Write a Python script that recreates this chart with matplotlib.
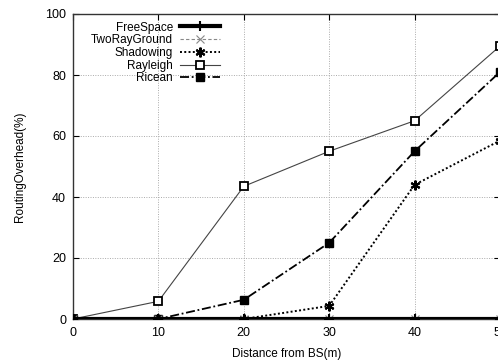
import matplotlib
matplotlib.use("Agg")
import matplotlib.pyplot as plt

plt.rcParams['font.family'] = ['Liberation Sans', 'DejaVu Sans']

distance = [0, 10, 20, 30, 40, 50]
free_space = [0, 0, 0, 0, 0, 0]
two_ray_ground = [0, 0, 0, 0, 0, 0]
shadowing = [0, 0, 0, 4.3, 44, 58.5]
rayleigh = [0, 5.8, 43.5, 55, 65, 89.5]
ricean = [0, 0, 6.3, 25, 55, 81]
x_ticks = [0, 10, 20, 30, 40, 50]
y_ticks = [0, 20, 40, 60, 80, 100]

fig = plt.figure(figsize=(4.98, 3.62), dpi=100)
ax = fig.add_axes([73 / 498, 43 / 362, 427 / 498, 305 / 362])

ax.plot(distance, free_space, color='black', lw=3.0, marker='+', ms=7, mew=1.5,
        label='FreeSpace', zorder=6)
ax.plot(distance, two_ray_ground, color='#888888', lw=0.8, ls=(0, (3, 2)),
        marker='x', ms=6, mew=0.8, label='TwoRayGround', zorder=5)
ax.plot(distance, shadowing, color='black', lw=1.4, ls=(0, (1, 1.2)),
        marker=(6, 2, 0), ms=7, mew=1.5, label='Shadowing', zorder=4)
ax.plot(distance, rayleigh, color='#444444', lw=0.8, ls='-',
        marker='s', ms=5.5, mfc='white', mec='black', mew=1.3,
        label='Rayleigh', zorder=3)
ax.plot(distance, ricean, color='black', lw=1.3, ls=(0, (5, 1.5, 1, 1.5)),
        marker='s', ms=5.5, mfc='black', mec='black', label='Ricean', zorder=4)

ax.set_xlim(0, 50)
ax.set_ylim(0, 100)
ax.set_xticks(x_ticks)
ax.set_yticks(y_ticks)
ax.tick_params(direction='in', length=4, labelsize=9, top=True, right=True,
               width=0.8)
ax.tick_params(axis='x', pad=6)
ax.tick_params(axis='y', pad=5)
ax.grid(True, color='#aaaaaa', ls=(0, (1, 1.5)), lw=0.7)
ax.set_axisbelow(True)
for s in ax.spines.values():
    s.set_linewidth(1.0)
    s.set_color('#333333')

ax.set_xlabel('Distance from BS(m)', fontsize=8.5, labelpad=6)
ax.set_ylabel('RoutingOverhead(%)', fontsize=8.5, labelpad=14)

leg = ax.legend(loc='upper right', bbox_to_anchor=(0.345, 0.975), frameon=False,
                markerfirst=False, fontsize=8.5, handlelength=3.4,
                handletextpad=0.6, labelspacing=0.06, borderpad=0,
                borderaxespad=0)

fig.savefig('out.png', dpi=100)
